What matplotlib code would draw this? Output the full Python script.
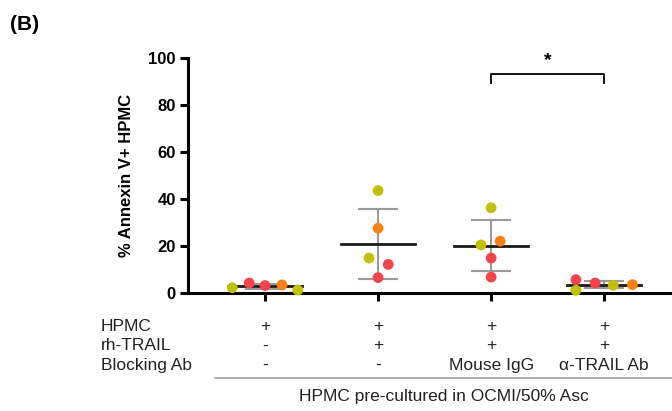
import numpy as np
import matplotlib
matplotlib.use("Agg")
import matplotlib.pyplot as plt

plt.rcParams['font.family'] = ['Liberation Sans', 'DejaVu Sans']

# data (% Annexin V+ HPMC), one list per group
g1 = [2.1, 4.1, 3.0, 3.3, 1.1]
g2 = [43.4, 27.4, 14.7, 12.0, 6.4]
g3 = [36.1, 20.3, 21.9, 14.7, 6.6]
g4 = [5.5, 1.0, 4.1, 3.1, 3.4]
groups = [g1, g2, g3, g4]

# donor colour for each point
YG, RD, OR = "#c3c000", "#f7434a", "#fb8012"
c1 = [YG, RD, RD, OR, YG]
c2 = [YG, OR, YG, RD, RD]
c3 = [YG, YG, OR, RD, RD]
c4 = [RD, YG, RD, YG, OR]
colors = [c1, c2, c3, c4]

# horizontal jitter of the dots (layout only)
jit = [[-0.29, -0.14, 0.0, 0.15, 0.29],
       [0.0, 0.0, -0.08, 0.09, 0.0],
       [0.0, -0.09, 0.08, 0.0, 0.0],
       [-0.25, -0.25, -0.08, 0.08, 0.25]]

row_names = ["HPMC", "rh-TRAIL", "Blocking Ab"]
row_hpmc = ["+", "+", "+", "+"]
row_trail = ["-", "+", "+", "+"]
row_block = ["-", "-", "Mouse IgG", "α-TRAIL Ab"]
caption = "HPMC pre-cultured in OCMI/50% Asc"

fig = plt.figure(figsize=(6.72, 4.11), dpi=100)
ax = fig.add_axes([0.280, 0.288, 0.72, 0.572])

for i, vals in enumerate(groups):
    v = np.array(vals)
    m = v.mean()
    sd = v.std(ddof=1)
    ax.plot([i, i], [m - sd, m + sd], color="#9a9a9a", lw=1.5, zorder=1)
    for y in (m - sd, m + sd):
        ax.plot([i - 0.17, i + 0.17], [y, y], color="#9a9a9a", lw=1.5, zorder=1)
    ax.plot([i - 0.33, i + 0.33], [m, m], color="#1a1a1a", lw=2, zorder=2)
    ax.scatter(np.array(jit[i]) + i, v, s=60, c=colors[i], zorder=3,
               linewidths=0, clip_on=False)

ax.set_xlim(-0.68, 3.6)
ax.set_ylim(0, 100)
ax.set_yticks([0, 20, 40, 60, 80, 100])
ax.set_xticks(range(4))
ax.set_xticklabels([])
for s in ("top", "right"):
    ax.spines[s].set_visible(False)
ax.spines["left"].set_linewidth(2.2)
ax.spines["bottom"].set_linewidth(2.2)
ax.tick_params(axis="both", width=2.2, length=6, labelsize=12, pad=3)
for t in ax.get_yticklabels():
    t.set_fontweight("bold")
ax.set_ylabel("% Annexin V+ HPMC", fontsize=12, fontweight="bold", labelpad=10)

# significance bracket between IgG and anti-TRAIL
ax.plot([2, 2, 3, 3], [89.1, 93.2, 93.2, 89.1], color="black", lw=1.3, clip_on=False)
ax.text(2.5, 98.5, "*", ha="center", va="center", fontsize=14, fontweight="bold")

# treatment table under the axis
tr = ax.get_xaxis_transform()
row_y = [-0.142, -0.227, -0.311]
for name, y in zip(row_names, row_y):
    fig.text(101 / 672, 0.288 + y * 0.572, name, ha="left", va="center",
             fontsize=12.5, color="#222222")
for vals, y in zip([row_hpmc, row_trail, row_block], row_y):
    for i, s in enumerate(vals):
        ax.text(i, y, s, transform=tr, ha="center", va="center",
                fontsize=12.5, color="#222222")

ax.plot([-0.44, 3.6], [-0.362, -0.362], transform=tr, color="#a0a0a0",
        lw=1.2, clip_on=False)
ax.text(1.58, -0.443, caption, transform=tr, ha="center", va="center",
        fontsize=12.5, color="#222222")

fig.text(10 / 672, 1 - 25 / 411, "(B)", ha="left", va="center",
         fontsize=15, fontweight="bold")

fig.savefig("out.png", dpi=100)
